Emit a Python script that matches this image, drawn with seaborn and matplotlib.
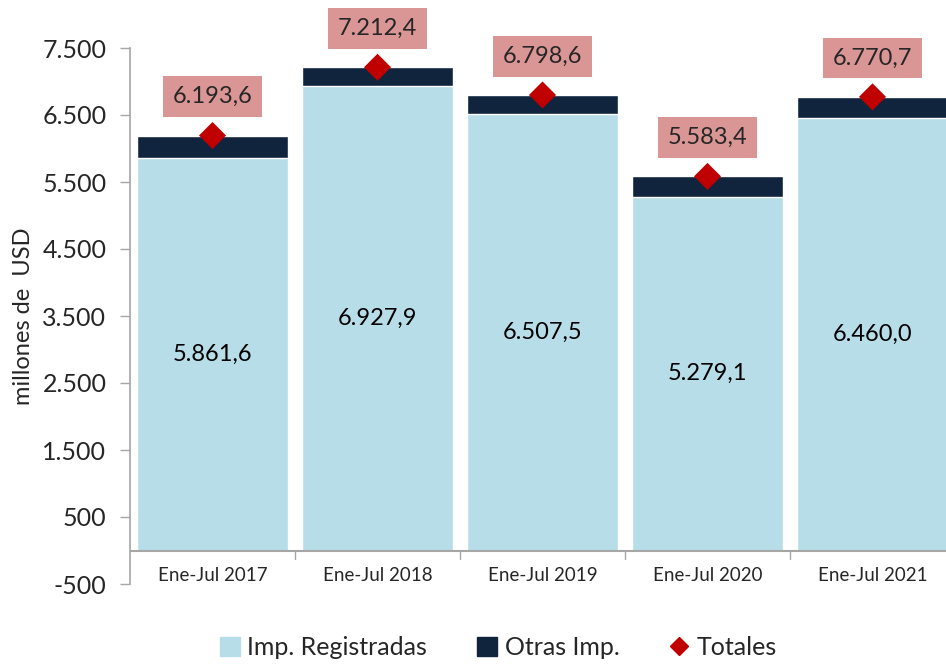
import matplotlib
matplotlib.use("Agg")
import matplotlib.pyplot as plt
import pandas as pd
import seaborn as sns
from matplotlib.lines import Line2D
from matplotlib.patches import Patch
from matplotlib.ticker import FuncFormatter

periods = ["Ene-Jul 2017", "Ene-Jul 2018", "Ene-Jul 2019", "Ene-Jul 2020", "Ene-Jul 2021"]
registradas = [5861.6, 6927.9, 6507.5, 5279.1, 6460.0]
totales = [6193.6, 7212.4, 6798.6, 5583.4, 6770.7]
y_ticks = [-500, 500, 1500, 2500, 3500, 4500, 5500, 6500, 7500]

LIGHT = "#B7DDE8"
NAVY = "#10243E"
RED = "#C00000"
PINK = "#D99694"
GRAY = "#A6A6A6"


def es_num(v, dec=1):
    s = f"{v:,.{dec}f}"
    return s.replace(",", "X").replace(".", ",").replace("X", ".")


def main():
    sns.set_style("white")
    plt.rcParams["font.family"] = ["Lato", "DejaVu Sans"]

    df = pd.DataFrame({"periodo": periods, "reg": registradas, "total": totales})

    fig = plt.figure(figsize=(9.46, 6.64), dpi=100)
    ax = fig.add_axes([130 / 946, 80 / 664, 825 / 946, 536 / 664])

    # stacked: total in navy underneath, registradas on top of it
    sns.barplot(data=df, x="periodo", y="total", color=NAVY, width=0.91,
                saturation=1, ax=ax)
    sns.barplot(data=df, x="periodo", y="reg", color=LIGHT, width=0.91,
                saturation=1, ax=ax)
    sns.scatterplot(data=df, x="periodo", y="total", marker="D", s=190,
                    color=RED, edgecolor="none", zorder=5, ax=ax)

    for i, (r, t) in enumerate(zip(registradas, totales)):
        ax.text(i, r / 2, es_num(r), ha="center", va="center", fontsize=17,
                color="black")
        ax.annotate(es_num(t), (i, t), xytext=(0, 28), textcoords="offset points",
                    ha="center", va="center", fontsize=17, annotation_clip=False,
                    bbox=dict(boxstyle="square,pad=0.42", fc=PINK, ec="none"))

    ax.set_ylim(-500, 7500)
    ax.set_xlim(-0.5, 4.5)
    ax.set_yticks(y_ticks)
    ax.yaxis.set_major_formatter(FuncFormatter(lambda v, p: es_num(v, 0)))
    ax.tick_params(axis="y", labelsize=18, length=7, width=1, color=GRAY,
                   direction="out", left=True, pad=10)
    ax.set_xticks(range(len(periods)))
    ax.set_xticklabels(periods)
    ax.tick_params(axis="x", labelsize=13.5, length=0, pad=-12)
    ax.axhline(0, color=GRAY, lw=1.5, zorder=4)
    # category separators on the zero line
    for i in range(len(periods)):
        ax.plot([i + 0.5, i + 0.5], [0, -130], color=GRAY, lw=1, zorder=4,
                clip_on=False)

    for s in ["top", "right", "bottom"]:
        ax.spines[s].set_visible(False)
    ax.spines["left"].set_color(GRAY)
    ax.spines["left"].set_linewidth(1.2)

    ax.set_xlabel("")
    ax.set_ylabel("millones de  USD", fontsize=17)
    ax.yaxis.set_label_coords(-0.116, 0.5)

    handles = [Patch(color=LIGHT, label="Imp. Registradas"),
               Patch(color=NAVY, label="Otras Imp."),
               Line2D([], [], marker="D", color=RED, ls="none", markersize=9,
                      label="Totales")]
    fig.legend(handles=handles, loc="center", bbox_to_anchor=(0.527, 0.025),
               ncol=3, frameon=False, fontsize=18, handlelength=0.8,
               handleheight=0.8, handletextpad=0.3, columnspacing=2.0)

    fig.savefig("out.png", dpi=100)


if __name__ == "__main__":
    main()
